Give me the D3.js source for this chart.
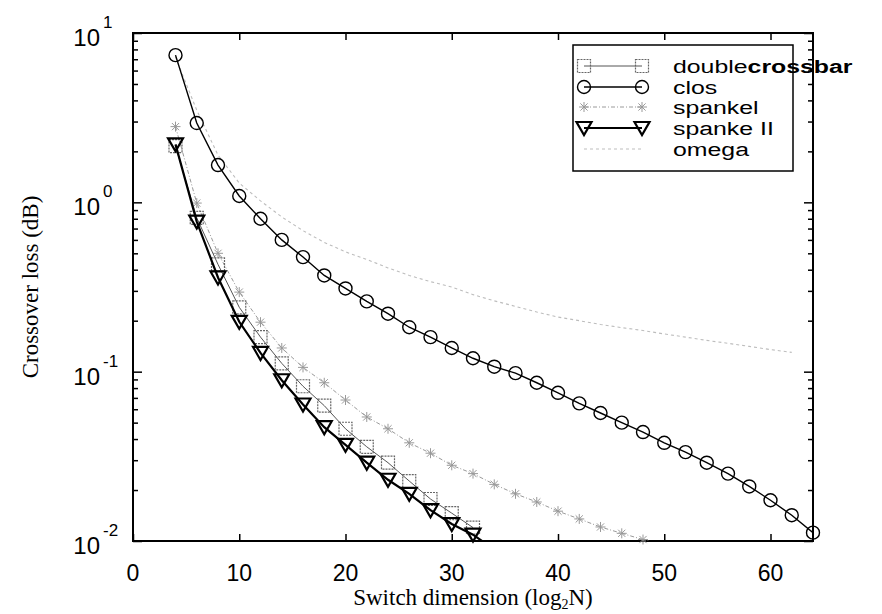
<!DOCTYPE html>
<html>
<head>
<meta charset="utf-8">
<script src="https://cdn.jsdelivr.net/npm/d3@7"></script>
<style>
  body { margin: 0; background: #fff; }
  svg { display: block; }
  .tick-lbl { font-family: "Liberation Sans", Arial, sans-serif; font-size: 23px; fill: #000; }
  .axis-title { font-family: "Liberation Serif", "Times New Roman", serif; font-size: 23px; fill: #000; }
  .leg { font-family: "Liberation Sans", Arial, sans-serif; font-size: 18px; fill: #000; }
</style>
</head>
<body>
<div id="chart"></div>
<script>
// data
const xDouble = [4, 6, 8, 10, 12, 14, 16, 18, 20, 22, 24, 26, 28, 30, 32];
const yDouble = [2.15, 0.81, 0.43, 0.24, 0.16, 0.112, 0.082, 0.063, 0.046, 0.036, 0.029, 0.0226, 0.0177, 0.0146, 0.012];

const xClos = [4, 6, 8, 10, 12, 14, 16, 18, 20, 22, 24, 26, 28, 30, 32, 34, 36, 38, 40, 42, 44, 46, 48, 50, 52, 54, 56, 58, 60, 62, 64];
const yClos = [7.4, 2.94, 1.66, 1.09, 0.80, 0.60, 0.475, 0.37, 0.31, 0.26, 0.22, 0.183, 0.16, 0.138, 0.12, 0.107, 0.098, 0.086, 0.075, 0.065, 0.057, 0.050, 0.044, 0.038, 0.0335, 0.029, 0.025, 0.021, 0.0174, 0.0142, 0.0112];

const xSpanke1 = [4, 6, 8, 10, 12, 14, 16, 18, 20, 22, 24, 26, 28, 30, 32, 34, 36, 38, 40, 42, 44, 46, 48, 50];
const ySpanke1 = [2.8, 0.99, 0.50, 0.295, 0.196, 0.138, 0.106, 0.086, 0.068, 0.054, 0.046, 0.038, 0.033, 0.028, 0.025, 0.0216, 0.019, 0.017, 0.015, 0.0135, 0.0121, 0.0111, 0.0102, 0.0093];

const xSpanke2 = [4, 6, 8, 10, 12, 14, 16, 18, 20, 22, 24, 26, 28, 30, 32, 34];
const ySpanke2 = [2.2, 0.77, 0.36, 0.197, 0.129, 0.089, 0.064, 0.047, 0.037, 0.029, 0.023, 0.019, 0.0152, 0.0126, 0.0109, 0.0089];

const xOmega = [4, 6, 8, 10, 12, 14, 16, 18, 20, 22, 24, 26, 28, 30, 32, 34, 36, 38, 40, 42, 44, 46, 48, 50, 52, 54, 56, 58, 60, 62];
const yOmega = [7.2, 3.5, 1.9, 1.3, 1.02, 0.82, 0.68, 0.58, 0.51, 0.46, 0.41, 0.37, 0.34, 0.316, 0.285, 0.262, 0.243, 0.225, 0.21, 0.2, 0.19, 0.182, 0.175, 0.167, 0.16, 0.153, 0.147, 0.141, 0.135, 0.13];

const seriesNames = ["double", "clos", "spankel", "spanke II", "omega"];
const xTicks = [0, 10, 20, 30, 40, 50, 60];
const yTicks = [0.01, 0.1, 1, 10];
const yExp = ["-2", "-1", "0", "1"];

const W = 882, H = 614;
const margin = { top: 33, right: 69, bottom: 73, left: 133 };
const iw = W - margin.left - margin.right, ih = H - margin.top - margin.bottom;

const svg = d3.select("#chart").append("svg").attr("width", W).attr("height", H);
svg.append("defs").append("clipPath").attr("id", "clip")
  .append("rect").attr("width", iw).attr("height", ih);

const g = svg.append("g").attr("transform", `translate(${margin.left},${margin.top})`);

const x = d3.scaleLinear().domain([0, 64]).range([0, iw]);
const y = d3.scaleLog().domain([0.01, 10]).range([ih, 0]);

// frame
g.append("rect").attr("width", iw).attr("height", ih)
  .attr("fill", "none").attr("stroke", "#000").attr("stroke-width", 2);

// ticks, inward on all four sides
const minor = [];
[0.01, 0.1, 1].forEach(d => { for (let k = 2; k <= 9; k++) minor.push(d * k); });

g.append("g").attr("transform", `translate(0,${ih})`)
  .call(d3.axisBottom(x).tickValues(xTicks).tickSizeInner(-7).tickSizeOuter(0).tickFormat(""))
  .call(a => a.select(".domain").remove());
g.append("g")
  .call(d3.axisTop(x).tickValues(xTicks).tickSizeInner(-7).tickSizeOuter(0).tickFormat(""))
  .call(a => a.select(".domain").remove());
g.append("g")
  .call(d3.axisLeft(y).tickValues(yTicks).tickSizeInner(-9).tickSizeOuter(0).tickFormat(""))
  .call(a => a.select(".domain").remove());
g.append("g")
  .call(d3.axisLeft(y).tickValues(minor).tickSizeInner(-5).tickSizeOuter(0).tickFormat(""))
  .call(a => a.select(".domain").remove());
g.append("g").attr("transform", `translate(${iw},0)`)
  .call(d3.axisRight(y).tickValues(yTicks).tickSizeInner(-9).tickSizeOuter(0).tickFormat(""))
  .call(a => a.select(".domain").remove());
g.append("g").attr("transform", `translate(${iw},0)`)
  .call(d3.axisRight(y).tickValues(minor).tickSizeInner(-5).tickSizeOuter(0).tickFormat(""))
  .call(a => a.select(".domain").remove());
g.selectAll(".tick line").attr("stroke", "#000").attr("stroke-width", 1.5);

// tick labels
g.selectAll(".xlbl").data(xTicks).join("text")
  .attr("class", "tick-lbl").attr("x", d => x(d)).attr("y", ih + 40)
  .attr("text-anchor", "middle").text(d => d);

yTicks.forEach((d, i) => {
  g.append("text").attr("class", "tick-lbl").style("font-size", "24px")
    .attr("x", -33).attr("y", y(d) + 13).attr("text-anchor", "end").text("10");
  g.append("text").attr("class", "tick-lbl").style("font-size", "17px")
    .attr("x", -30).attr("y", y(d) - 5).text(yExp[i]);
});

// axis titles
svg.append("text").attr("class", "axis-title")
  .attr("x", margin.left + iw / 2).attr("y", H - 9)
  .attr("text-anchor", "middle")
  .html('Switch dimension (log<tspan font-size="14" dy="4">2</tspan><tspan dy="-4">N)</tspan>');
svg.append("text").attr("class", "axis-title")
  .attr("transform", `translate(38,${margin.top + ih / 2}) rotate(-90)`)
  .attr("text-anchor", "middle").text("Crossover loss (dB)");

// marker drawing
function marker(sel, type, style) {
  if (type === "square") {
    sel.append("rect").attr("x", -6.5).attr("y", -6.5).attr("width", 13).attr("height", 13)
      .attr("fill", "none").attr("stroke", style.mstroke).attr("stroke-width", 1.2)
      .attr("stroke-dasharray", "2,1");
  } else if (type === "circle") {
    sel.append("circle").attr("r", 6.5).attr("fill", "none")
      .attr("stroke", style.mstroke).attr("stroke-width", 1.4);
  } else if (type === "tri") {
    sel.append("path").attr("d", "M-7.5,-6L7.5,-6L0,7Z").attr("fill", "none")
      .attr("stroke", style.mstroke).attr("stroke-width", 2.2).attr("stroke-linejoin", "miter");
  } else if (type === "star") {
    sel.append("path").attr("d", "M-5,0H5M0,-5V5M-3.6,-3.6L3.6,3.6M-3.6,3.6L3.6,-3.6")
      .attr("stroke", style.mstroke).attr("stroke-width", 1);
  }
}

const series = [
  { xs: xDouble, ys: yDouble, type: "square", stroke: "#555", width: 1, dash: null, mstroke: "#666" },
  { xs: xClos, ys: yClos, type: "circle", stroke: "#000", width: 1.4, dash: null, mstroke: "#000" },
  { xs: xSpanke1, ys: ySpanke1, type: "star", stroke: "#9a9a9a", width: 1, dash: "4,2,1,2", mstroke: "#999" },
  { xs: xSpanke2, ys: ySpanke2, type: "tri", stroke: "#000", width: 2.2, dash: null, mstroke: "#000" },
  { xs: xOmega, ys: yOmega, type: null, stroke: "#bdbdbd", width: 1.1, dash: "3,3", mstroke: "#bdbdbd" }
];

const line = d3.line().x(d => x(d[0])).y(d => y(d[1]));
const plot = g.append("g");

// draw omega first (underneath), then the others
[4, 2, 0, 1, 3].forEach(si => {
  const s = series[si];
  const pts = s.xs.map((v, i) => [v, s.ys[i]]);
  plot.append("path").datum(pts).attr("clip-path", "url(#clip)")
    .attr("d", line).attr("fill", "none")
    .attr("stroke", s.stroke).attr("stroke-width", s.width)
    .attr("stroke-dasharray", s.dash);
  if (s.type) {
    pts.filter(p => p[1] >= 0.0099).forEach(p => {
      const m = plot.append("g").attr("transform", `translate(${x(p[0])},${y(p[1])})`);
      marker(m, s.type, s);
    });
  }
});

// legend
const leg = svg.append("g");
leg.append("rect").attr("x", 573).attr("y", 45).attr("width", 220).attr("height", 126)
  .attr("fill", "#fff").attr("stroke", "#000").attr("stroke-width", 1.5);
const rowY = [66, 87, 107, 128, 149];
series.forEach((s, i) => {
  const ry = rowY[i];
  leg.append("line").attr("x1", 584).attr("x2", 642).attr("y1", ry).attr("y2", ry)
    .attr("stroke", s.stroke).attr("stroke-width", s.width).attr("stroke-dasharray", s.dash);
  if (s.type) {
    [584, 642].forEach(px => {
      const m = leg.append("g").attr("transform", `translate(${px},${ry})`);
      marker(m, s.type, s);
    });
  }
});
// the scanned legend font is wide; stretch the text horizontally
const ltg = leg.append("g").attr("transform", "translate(673,0) scale(1.38,1)");
const lt = ltg.selectAll(".leg").data(seriesNames).join("text")
  .attr("class", "leg").attr("x", 0).attr("y", (d, i) => rowY[i] + 7).text(d => d);
lt.filter((d, i) => i === 0).append("tspan").style("font-weight", "bold").text("crossbar");
</script>
</body>
</html>
